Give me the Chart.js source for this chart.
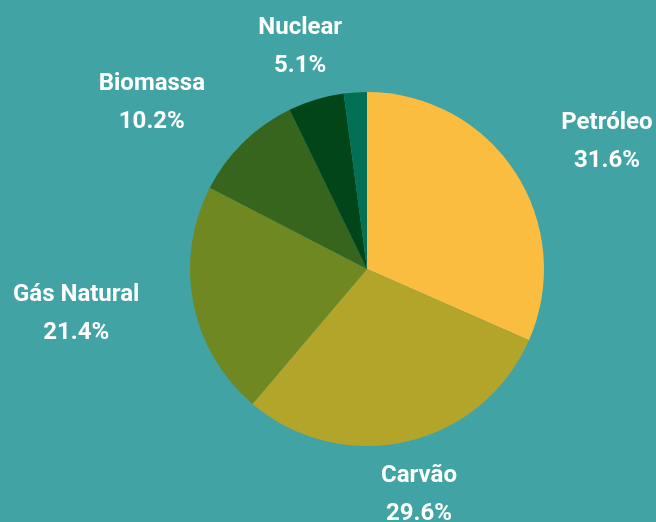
<!DOCTYPE html>
<html>
<head>
<meta charset="utf-8">
<script src="https://cdn.jsdelivr.net/npm/chart.js@4"></script>
<style>
  html, body { margin: 0; padding: 0; background: #41a3a3; }
  canvas { display: block; }
</style>
</head>
<body>
<canvas id="myChart" width="656" height="522"></canvas>
<script>
let labels = ["Petróleo", "Carvão", "Gás Natural", "Biomassa", "Nuclear", ""];
let values = [31.6, 29.6, 21.4, 10.2, 5.1, 2.1];
let valueText = ["31.6%", "29.6%", "21.4%", "10.2%", "5.1%", ""];
let colors = ["#fbbd40", "#b2a52a", "#6f8822", "#37651e", "#014518", "#036f55"];

// labels outside the slices, two lines each
const outsideLabels = {
    id: 'outsideLabels',
    afterDatasetsDraw(chart) {
        let ctx = chart.ctx;
        let meta = chart.getDatasetMeta(0);
        ctx.save();
        ctx.font = "bold 24px Roboto";
        ctx.fillStyle = "#ffffff";
        ctx.textAlign = "center";
        ctx.textBaseline = "middle";
        meta.data.forEach((arc, i) => {
            if (!labels[i]) return;
            let p = arc.getProps(['x', 'y', 'startAngle', 'endAngle', 'outerRadius'], true);
            let mid = (p.startAngle + p.endAngle) / 2;
            let dx = Math.cos(mid);
            let dy = Math.sin(mid);
            let dist = p.outerRadius + 55;
            let w = Math.max(ctx.measureText(labels[i]).width, ctx.measureText(valueText[i]).width);
            let x = p.x + dx * dist;
            if (Math.abs(dx) > 0.5) x += Math.sign(dx) * w / 2;
            let y = p.y + dy * dist;
            ctx.fillText(labels[i], x, y - 19);
            ctx.fillText(valueText[i], x, y + 19);
        });
        ctx.restore();
    }
};

let ctx = document.getElementById('myChart').getContext('2d');
new Chart(ctx, {
    type: 'pie',
    data: {
        labels: labels,
        datasets: [{
            data: values,
            backgroundColor: colors,
            borderWidth: 0
        }]
    },
    options: {
        responsive: false,
        animation: false,
        layout: { padding: { left: 190, right: 112, top: 92, bottom: 76 } },
        plugins: {
            legend: { display: false },
            tooltip: { enabled: false }
        }
    },
    plugins: [outsideLabels]
});
</script>
</body>
</html>
